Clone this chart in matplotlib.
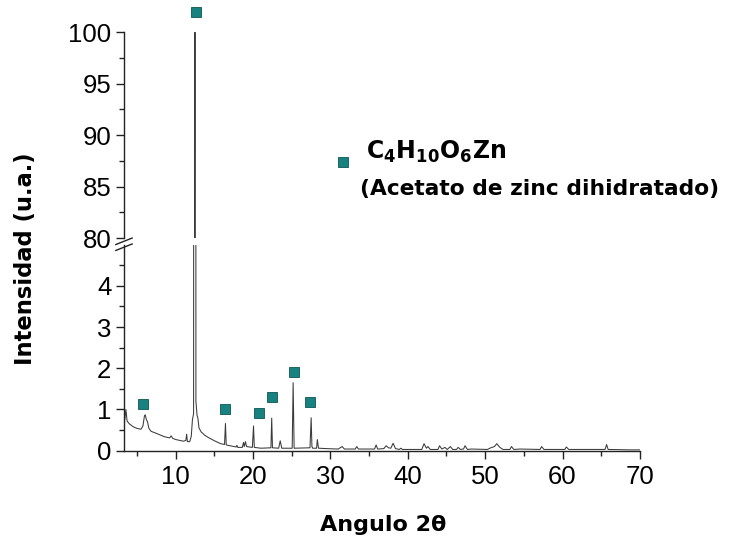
import matplotlib
matplotlib.use("Agg")
import matplotlib.pyplot as plt
from matplotlib.lines import Line2D
import numpy as np

# ---- data ----
two_theta = [3.4, 3.55, 3.7, 4.0, 4.5, 5.0, 5.5, 5.75, 5.95, 6.05, 6.2, 6.35, 6.5, 6.8,
             7.5, 8.0, 8.5, 9.2, 9.4, 9.6, 10.0, 10.5, 11.0, 11.3, 11.4, 11.5, 11.8,
             12.0, 12.15, 12.3, 12.45, 12.5, 12.6, 12.75, 12.85, 13.0, 13.3, 13.5, 13.7,
             14.2, 15.0, 15.8, 16.3, 16.42, 16.52, 17.0, 17.8, 17.9, 18.0, 18.6, 18.75,
             18.85, 19.0, 19.15, 19.9, 20.05, 20.15, 21.0, 22.3, 22.4, 22.5, 23.3, 23.5,
             23.7, 25.05, 25.17, 25.3, 27.35, 27.5, 27.6, 27.7, 28.2, 28.3, 28.45, 29.5,
             31.0, 31.5, 31.8, 33.2, 33.4, 33.6, 35.7, 35.9, 36.1, 36.9, 37.2, 37.5,
             37.8, 38.1, 38.4, 38.9, 39.1, 39.3, 41.8, 42.1, 42.4, 42.6, 42.9, 43.9,
             44.1, 44.4, 44.8, 45.1, 45.5, 45.8, 46.3, 46.5, 46.8, 47.2, 47.4, 47.7,
             48.2, 50.3, 50.6, 51.2, 51.5, 51.9, 52.3, 53.2, 53.4, 53.7, 54.5, 57.1,
             57.3, 57.6, 60.3, 60.5, 60.8, 61.8, 65.5, 65.7, 65.9, 68.6, 70.0]
intensity = [0.75, 1.0, 0.72, 0.65, 0.58, 0.54, 0.52, 0.6, 0.85, 0.87, 0.75, 0.7, 0.55, 0.47,
             0.42, 0.38, 0.34, 0.31, 0.36, 0.3, 0.27, 0.25, 0.23, 0.25, 0.4, 0.22, 0.22,
             0.35, 0.75, 0.9, 100.0, 100.0, 1.2, 0.85, 0.8, 0.55, 0.45, 0.42, 0.38,
             0.32, 0.24, 0.17, 0.15, 0.66, 0.14, 0.12, 0.09, 0.13, 0.08, 0.08, 0.2,
             0.1, 0.22, 0.1, 0.08, 0.6, 0.08, 0.06, 0.07, 0.79, 0.07, 0.06, 0.24,
             0.06, 0.06, 1.65, 0.06, 0.07, 0.8, 0.1, 0.06, 0.06, 0.27, 0.06, 0.05,
             0.04, 0.1, 0.04, 0.04, 0.1, 0.04, 0.04, 0.14, 0.04, 0.05, 0.12, 0.07,
             0.06, 0.18, 0.05, 0.03, 0.06, 0.03, 0.03, 0.17, 0.06, 0.1, 0.03, 0.03,
             0.12, 0.04, 0.08, 0.03, 0.1, 0.03, 0.03, 0.08, 0.03, 0.04, 0.12, 0.03,
             0.04, 0.03, 0.06, 0.1, 0.17, 0.08, 0.03, 0.03, 0.1, 0.03, 0.04, 0.03,
             0.1, 0.03, 0.03, 0.09, 0.03, 0.03, 0.03, 0.15, 0.03, 0.02, 0.02]

marker_x_low = [5.8, 16.4, 20.7, 22.4, 25.3, 27.3]
marker_y_low = [1.13, 1.02, 0.91, 1.31, 1.91, 1.17]
marker_x_top = [12.55]
marker_y_top = [102.0]

x_ticks = [10, 20, 30, 40, 50, 60, 70]
y_ticks_low = [0, 1, 2, 3, 4]
y_ticks_top = [80, 85, 90, 95, 100]

legend_formula = r"$\mathbf{C_4H_{10}O_6Zn}$"
legend_name = "(Acetato de zinc dihidratado)"
xlabel = "Angulo 2θ"
ylabel = "Intensidad (u.a.)"

# ---- style ----
plt.rcParams['font.family'] = ['Liberation Sans', 'DejaVu Sans']
plt.rcParams['mathtext.fontset'] = 'dejavusans'
line_col = '#3a3a3a'
mk_face = '#17827f'
mk_edge = '#0e5553'
tick_fs = 18.5

fig = plt.figure(figsize=(7.38, 5.38), dpi=100)
left, width = 0.168, 0.699
ax_top = fig.add_axes([left, 0.5576, width, 0.3824])
ax_low = fig.add_axes([left, 0.1623, width, 0.3829])

for ax in (ax_top, ax_low):
    ax.plot(two_theta, intensity, color=line_col, lw=0.75)
    ax.set_xlim(3.3, 70)
    for s in ('top', 'right'):
        ax.spines[s].set_visible(False)
    for s in ('left', 'bottom'):
        ax.spines[s].set_linewidth(1.0)
        ax.spines[s].set_color('#222222')
    ax.tick_params(which='major', direction='out', length=6, width=1.0,
                   labelsize=tick_fs, pad=3, color='#222222')
    ax.tick_params(which='minor', direction='out', length=3.5, width=1.0, color='#222222')

ax_low.set_ylim(0, 5)
ax_low.set_yticks(y_ticks_low)
ax_low.set_yticks(np.arange(0.5, 5.0, 1.0), minor=True)
ax_low.set_xticks(x_ticks)
ax_low.set_xticks(np.arange(5, 70, 10), minor=True)
ax_low.tick_params(axis='x', which='major', pad=4)

ax_top.set_ylim(80, 100)
ax_top.set_yticks(y_ticks_top)
ax_top.set_yticks(np.arange(82.5, 100, 5), minor=True)
ax_top.spines['bottom'].set_visible(False)
ax_top.set_xticks([])
ax_top.tick_params(axis='x', which='both', bottom=False, labelbottom=False)

ax_low.plot(marker_x_low, marker_y_low, linestyle='none', marker='s', ms=7,
            mfc=mk_face, mec=mk_edge, mew=0.6, clip_on=False, zorder=5)
ax_top.plot(marker_x_top, marker_y_top, linestyle='none', marker='s', ms=7,
            mfc=mk_face, mec=mk_edge, mew=0.6, clip_on=False, zorder=5)

# break marks on the y axis
bx = left
for yf in (0.5515, 0.5405):
    fig.add_artist(Line2D([bx - 0.011, bx + 0.011], [yf - 0.006, yf + 0.006],
                          color='#222222', lw=1.0))

# legend
fig.add_artist(Line2D([343 / 738], [1 - 162 / 538], marker='s', ms=6.5,
                      mfc=mk_face, mec=mk_edge, mew=0.6, linestyle='none'))
fig.text(366 / 738, 1 - 159 / 538, legend_formula, fontsize=17, va='baseline', ha='left')
fig.text(360 / 738, 1 - 195 / 538, legend_name, fontsize=15.7, fontweight='bold',
         family='DejaVu Sans', va='baseline', ha='left')

fig.text(0.034, 0.52, ylabel, rotation=90, fontsize=16.3, fontweight='bold',
         family='DejaVu Sans', va='center', ha='center')
fig.text(0.519, 0.024, xlabel, fontsize=16, fontweight='bold',
         family='DejaVu Sans', va='center', ha='center')

fig.savefig('out.png', dpi=100, facecolor='white')
